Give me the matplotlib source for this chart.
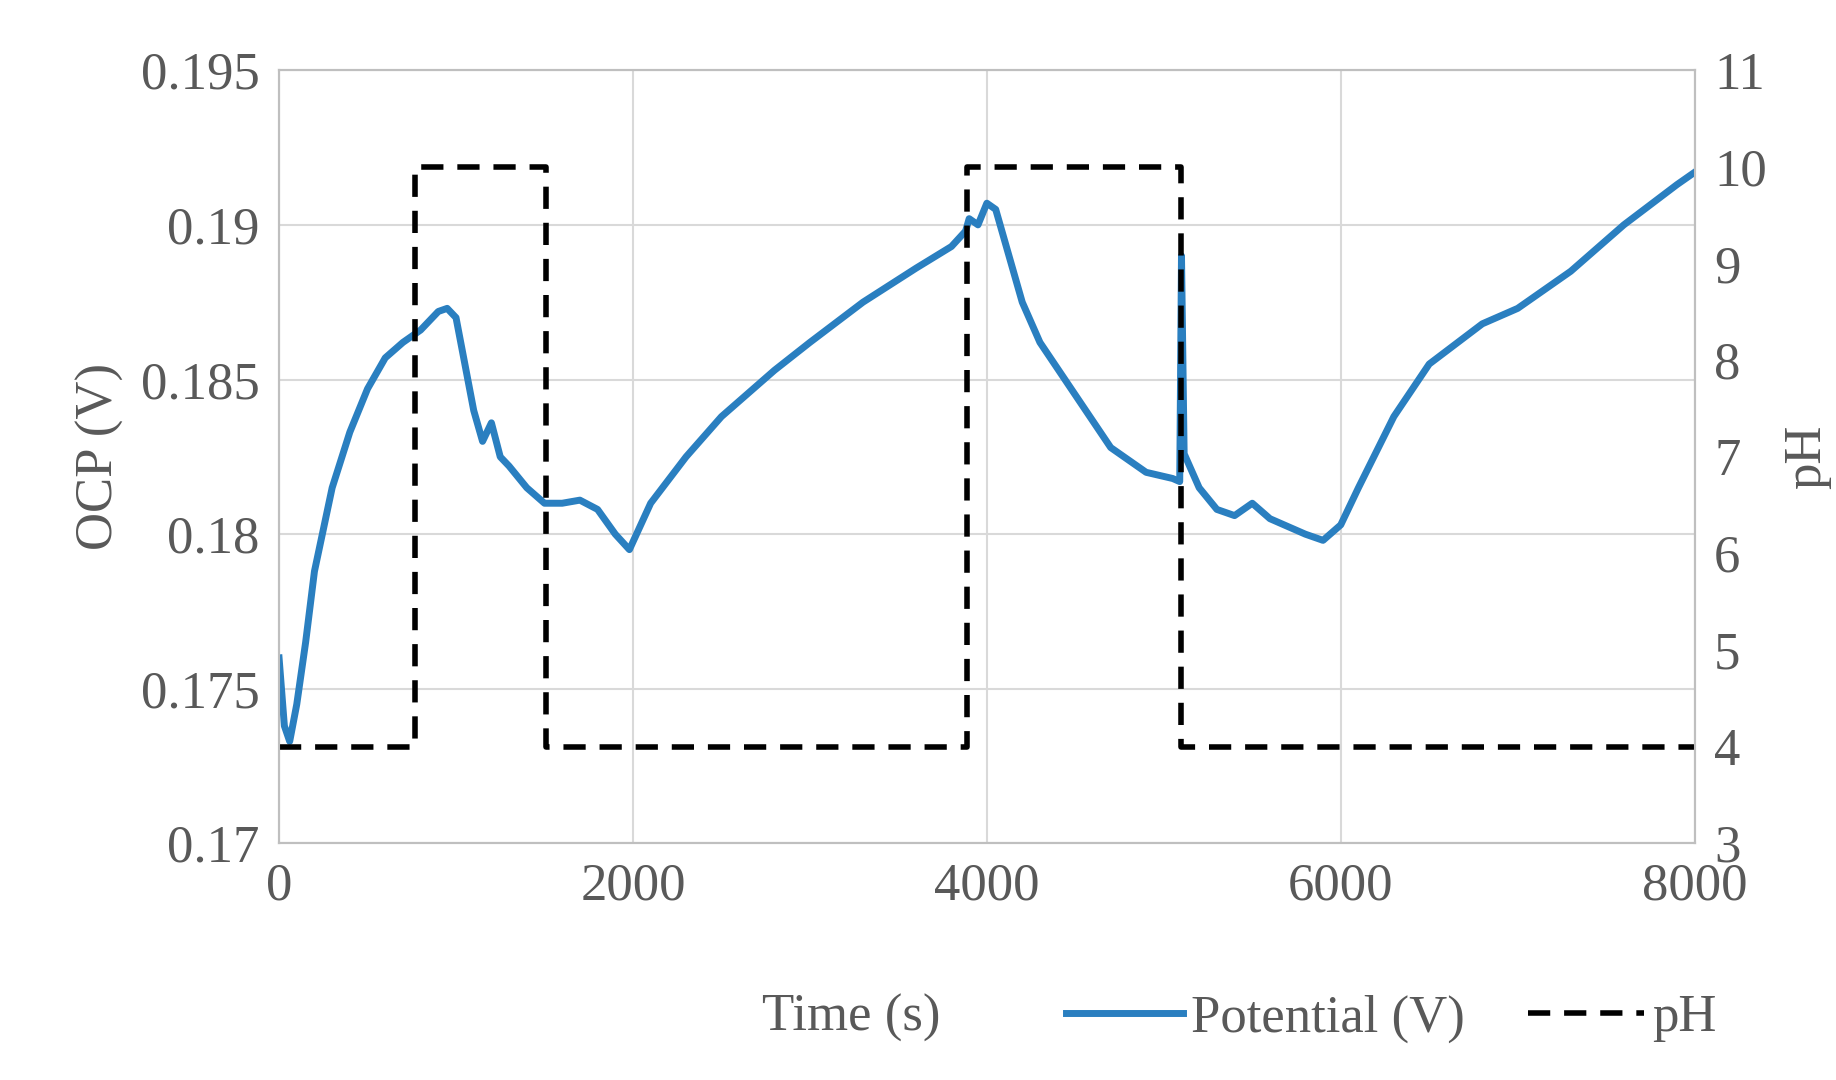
import numpy as np
import matplotlib.pyplot as plt
from matplotlib.lines import Line2D

# potential readings (s, V)
time_s = [0, 30, 60, 100, 150, 200, 300, 400, 500, 600, 700, 800, 900, 950, 1000, 1050,
          1100, 1150, 1200, 1250, 1300, 1400, 1500, 1600, 1700, 1800, 1900, 1980, 2100,
          2300, 2500, 2800, 3000, 3300, 3600, 3800, 3880, 3900, 3950, 4000, 4050, 4100,
          4200, 4300, 4500, 4700, 4900, 5050, 5090, 5100, 5115, 5200, 5300, 5400, 5500,
          5600, 5800, 5900, 6000, 6100, 6300, 6500, 6800, 7000, 7300, 7600, 7900, 8000]
potential = [0.1760, 0.1738, 0.1733, 0.1745, 0.1765, 0.1788, 0.1815, 0.1833, 0.1847,
             0.1857, 0.1862, 0.1866, 0.1872, 0.1873, 0.1870, 0.1855, 0.1840, 0.1830,
             0.1836, 0.1825, 0.1822, 0.1815, 0.1810, 0.1810, 0.1811, 0.1808, 0.1800,
             0.1795, 0.1810, 0.1825, 0.1838, 0.1853, 0.1862, 0.1875, 0.1886, 0.1893,
             0.1898, 0.1902, 0.1900, 0.1907, 0.1905, 0.1895, 0.1875, 0.1862, 0.1845,
             0.1828, 0.1820, 0.1818, 0.1817, 0.1890, 0.1826, 0.1815, 0.1808, 0.1806,
             0.1810, 0.1805, 0.1800, 0.1798, 0.1803, 0.1815, 0.1838, 0.1855, 0.1868,
             0.1873, 0.1885, 0.1900, 0.1913, 0.1917]

# pH steps
ph_time = [0, 770, 770, 1510, 1510, 3890, 3890, 5100, 5100, 8000]
ph_vals = [4, 4, 10, 10, 4, 4, 10, 10, 4, 4]

grey = '#595959'
plt.rcParams['font.family'] = ['Liberation Serif', 'DejaVu Serif']
plt.rcParams['font.size'] = 38

fig = plt.figure(figsize=(18.36, 10.8), dpi=100)
ax = fig.add_axes([0.152, 0.219, 0.771, 0.716])
ax.plot(time_s, potential, color='#2a7fc0', lw=5, zorder=3)
ax.set_xlim(0, 8000)
ax.set_ylim(0.17, 0.195)
ax.set_xticks([0, 2000, 4000, 6000, 8000])
ax.set_yticks([0.17, 0.175, 0.18, 0.185, 0.19, 0.195])
ax.set_yticklabels(['0.17', '0.175', '0.18', '0.185', '0.19', '0.195'])
ax.grid(color='#d9d9d9', lw=1.5)
ax.set_axisbelow(True)
ax.set_ylabel('OCP (V)', color=grey, labelpad=12)
ax.tick_params(length=0, colors=grey, pad=14)

ax2 = ax.twinx()
ax2.plot(ph_time, ph_vals, color='black', lw=4, ls=(0, (4, 2.5)))
ax2.set_ylim(3, 11)
ax2.set_yticks(range(3, 12))
ax2.set_ylabel('pH', color=grey, rotation=90, labelpad=12)
ax2.tick_params(length=0, colors=grey, pad=14)

for a in (ax, ax2):
    for s in a.spines.values():
        s.set_color('#bfbfbf')
        s.set_linewidth(1.5)

fig.text(0.415, 0.057, 'Time (s)', color=grey, ha='left', va='center')
handles = [Line2D([], [], color='#2a7fc0', lw=5),
           Line2D([], [], color='black', lw=4, ls=(0, (4, 2.5)))]
fig.legend(handles, ['Potential (V)', 'pH'], loc='center left', bbox_to_anchor=(0.555, 0.057),
           ncol=2, frameon=False, handlelength=2.2, handletextpad=0.15, columnspacing=1.2,
           labelcolor=grey)

fig.savefig('out.png')
